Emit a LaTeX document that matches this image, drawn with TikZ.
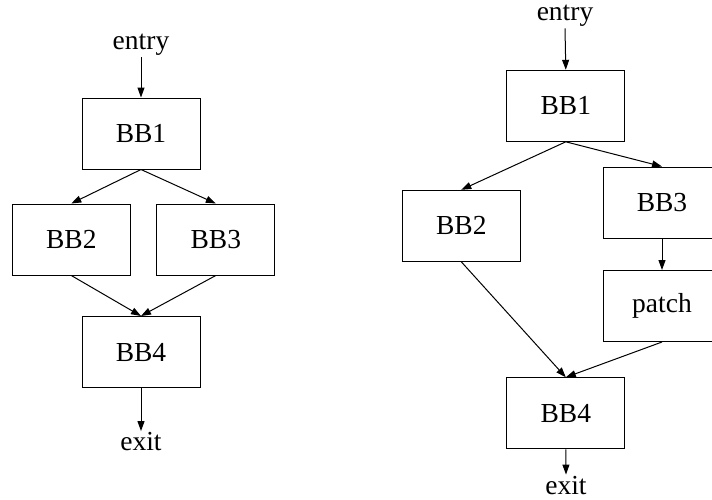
\documentclass[tikz,border=0pt]{standalone}
\usepackage{fontspec}
\setmainfont{Liberation Serif}
\usetikzlibrary{arrows.meta}
\begin{document}
\begin{tikzpicture}[x=1pt,y=-1pt,
  bbox/.style={draw,line width=1pt,minimum width=118pt,minimum height=71pt,inner sep=0pt,font=\fontsize{27.5}{30}\selectfont},
  lbl/.style={inner sep=1.5pt,font=\fontsize{27.5}{30}\selectfont},
  edge/.style={line width=1pt,-{Triangle[length=10pt,width=7pt]}}]
\useasboundingbox (0,0) rectangle (712,499);
\clip (0,0) rectangle (712,499);
% left graph
\node[lbl] (Lentry) at (141,45) {entry};
\node[bbox] (LBB1) at (141,133.5) {BB1};
\node[bbox] (LBB2) at (71.3,239.5) {BB2};
\node[bbox] (LBB3) at (215.8,239.5) {BB3};
\node[bbox] (LBB4) at (141,352) {BB4};
\node[lbl] (Lexit) at (141,442) {exit};
\draw[edge] (Lentry.south) -- (LBB1.north);
\draw[edge] (LBB1.south) -- (LBB2.north);
\draw[edge] (LBB1.south) -- (LBB3.north);
\draw[edge] (LBB2.south) -- (LBB4.north);
\draw[edge] (LBB3.south) -- (LBB4.north);
\draw[edge] (LBB4.south) -- (Lexit.north);
% right graph
\node[lbl] (Rentry) at (565,16) {entry};
\node[bbox] (RBB1) at (565.8,105.8) {BB1};
\node[bbox] (RBB2) at (461.3,225.8) {BB2};
\node[bbox] (RBB3) at (662,202.5) {BB3};
\node[bbox] (Rpatch) at (662,306) {patch};
\node[bbox] (RBB4) at (565.8,413.3) {BB4};
\node[lbl] (Rexit) at (566,485.5) {exit};
\draw[edge] (Rentry.south) -- (RBB1.north);
\draw[edge] (RBB1.south) -- (RBB2.north);
\draw[edge] (RBB1.south) -- (RBB3.north);
\draw[edge] (RBB3.south) -- (Rpatch.north);
\draw[edge] (RBB2.south) -- (RBB4.north);
\draw[edge] (Rpatch.south) -- (RBB4.north);
\draw[edge] (RBB4.south) -- (Rexit.north);
\end{tikzpicture}
\end{document}
